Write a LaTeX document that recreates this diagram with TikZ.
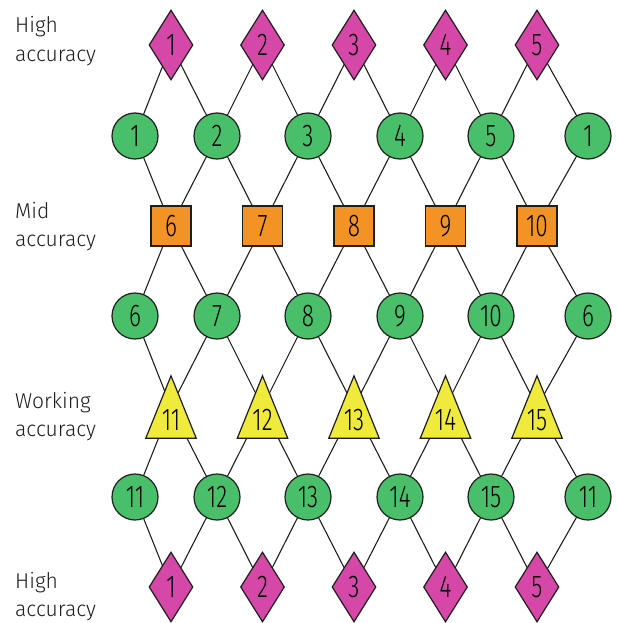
\documentclass[tikz,border=0pt]{standalone}
\usepackage{fontspec}
\setmainfont{Fira Sans}[UprightFont=* Light, FakeStretch=0.98]
\newfontfamily\numfont{Fira Sans}[UprightFont=* Light, FakeStretch=0.72]
\usetikzlibrary{shapes.geometric,backgrounds,calc}
\definecolor{cmag}{HTML}{D548A8}
\definecolor{cgreen}{HTML}{48BF68}
\definecolor{corange}{HTML}{F39325}
\definecolor{cyellow}{HTML}{F0EA3C}
\definecolor{outl}{HTML}{1E1E1E}
\begin{document}
\begin{tikzpicture}[x=1pt,y=-1pt,
  base/.style={draw=outl, line width=1.2pt, inner sep=0pt, font=\numfont\fontsize{31.5}{31.5}\selectfont},
  dia/.style={base, diamond, fill=cmag, minimum width=44pt, minimum height=70pt},
  circ/.style={base, circle, fill=cgreen, minimum size=46pt},
  sq/.style={base, rectangle, fill=corange, minimum width=40pt, minimum height=40pt},
  triframe/.style={rectangle, inner sep=0pt, minimum width=50pt, minimum height=62pt},
  trifill/.style={draw=outl, fill=cyellow, line width=1.2pt, line join=miter},
  numtxt/.style={inner sep=0pt, font=\numfont\fontsize{31.5}{31.5}\selectfont},
  lab/.style={anchor=base west, inner sep=0pt, font=\fontsize{21.5}{21.5}\selectfont, text=outl},
  link/.style={draw=outl, line width=1.1pt}]
\useasboundingbox (0,0) rectangle (616,623);

% top diamonds
\foreach \x/\t [count=\i] in {171/1,262.5/2,354/3,445.5/4,537/5}
  \node[dia] (d\i) at (\x,45) {\t};
% circles row A
\foreach \x/\t [count=\i] in {135/1,217/2,308/3,400/4,491/5,588/1}
  \node[circ] (a\i) at (\x,136) {\t};
% squares
\foreach \x/\t [count=\i] in {171/6,262.5/7,354/8,445.5/9,537/10}
  \node[sq] (s\i) at (\x,226) {\t};
% circles row B
\foreach \x/\t [count=\i] in {135/6,217/7,308/8,400/9,491/10,588/6}
  \node[circ] (b\i) at (\x,316) {\t};
% triangles
\foreach \x/\t [count=\i] in {171/11,262.5/12,354/13,445.5/14,537/15} {
  \node[triframe] (t\i) at (\x,407) {};
  \filldraw[trifill] (t\i.north) -- (t\i.south east) -- (t\i.south west) -- cycle;
  \node[numtxt] (tn\i) at ($(t\i)+(0,13)$) {\t};
}
% circles row C
\foreach \x/\t [count=\i] in {135/11,217/12,308/13,400/14,491/15,588/11}
  \node[circ] (c\i) at (\x,497) {\t};
% bottom diamonds
\foreach \x/\t [count=\i] in {171/1,262.5/2,354/3,445.5/4,537/5}
  \node[dia] (e\i) at (\x,587) {\t};

% connectors behind the shapes
\begin{scope}[on background layer]
\foreach \i/\j in {1/2,2/3,3/4,4/5,5/6} {
  \draw[link] (d\i.center) -- (a\i.center);
  \draw[link] (d\i.center) -- (a\j.center);
  \draw[link] (s\i.center) -- (a\i.center);
  \draw[link] (s\i.center) -- (a\j.center);
  \draw[link] (s\i.center) -- (b\i.center);
  \draw[link] (s\i.center) -- (b\j.center);
  \draw[link] (t\i.center) -- (b\i.center);
  \draw[link] (t\i.center) -- (b\j.center);
  \draw[link] (t\i.center) -- (c\i.center);
  \draw[link] (t\i.center) -- (c\j.center);
  \draw[link] (e\i.center) -- (c\i.center);
  \draw[link] (e\i.center) -- (c\j.center);
}
\end{scope}

% row labels
\node[lab] (l1a) at (15,33) {High};
\node[lab] (l1b) at (15,62) {accuracy};
\node[lab] (l2a) at (15,218) {Mid};
\node[lab] (l2b) at (15,246.5) {accuracy};
\node[lab] (l3a) at (15,408) {Working};
\node[lab] (l3b) at (15,436.5) {accuracy};
\node[lab] (l4a) at (15,588) {High};
\node[lab] (l4b) at (15,616.5) {accuracy};
\end{tikzpicture}
\end{document}
